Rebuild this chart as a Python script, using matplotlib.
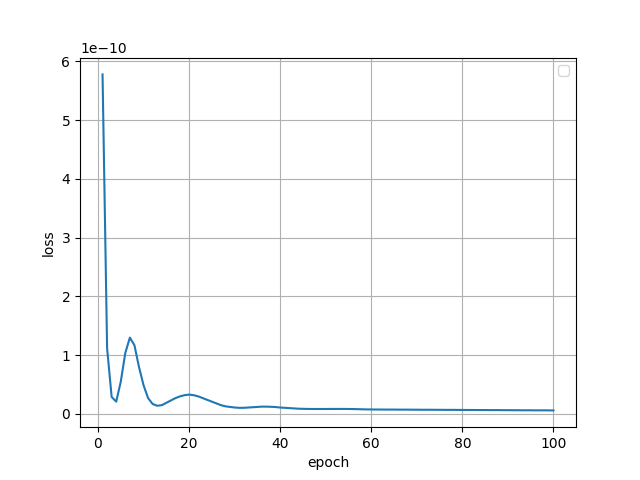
import matplotlib
matplotlib.use("Agg")
import matplotlib.pyplot as plt

epochs = list(range(1, 101))
loss = [
    5.78, 1.12, 0.29, 0.21, 0.55, 1.04, 1.30, 1.17, 0.80, 0.49,
    0.27, 0.17, 0.14, 0.15, 0.19, 0.23, 0.27, 0.30, 0.32, 0.33,
    0.32, 0.30, 0.27, 0.24, 0.21, 0.18, 0.15, 0.13, 0.12, 0.11,
    0.105, 0.105, 0.11, 0.115, 0.12, 0.125, 0.125, 0.122, 0.118, 0.11,
    0.105, 0.10, 0.095, 0.09, 0.088, 0.086, 0.085, 0.085, 0.085, 0.085,
    0.086, 0.086, 0.086, 0.086, 0.085, 0.084, 0.082, 0.080, 0.078, 0.077,
    0.076, 0.076, 0.075, 0.075, 0.075, 0.074, 0.074, 0.074, 0.073, 0.073,
    0.072, 0.072, 0.072, 0.071, 0.071, 0.070, 0.070, 0.070, 0.069, 0.069,
    0.068, 0.068, 0.067, 0.067, 0.067, 0.066, 0.066, 0.066, 0.065, 0.065,
    0.064, 0.064, 0.063, 0.063, 0.063, 0.062, 0.062, 0.062, 0.061, 0.061,
]
loss = [v * 1e-10 for v in loss]

fig = plt.figure(figsize=(6.4, 4.8), dpi=100)
plt.plot(epochs, loss)
plt.xlabel("epoch")
plt.ylabel("loss")
plt.grid()
plt.legend()
plt.savefig("out.png")
